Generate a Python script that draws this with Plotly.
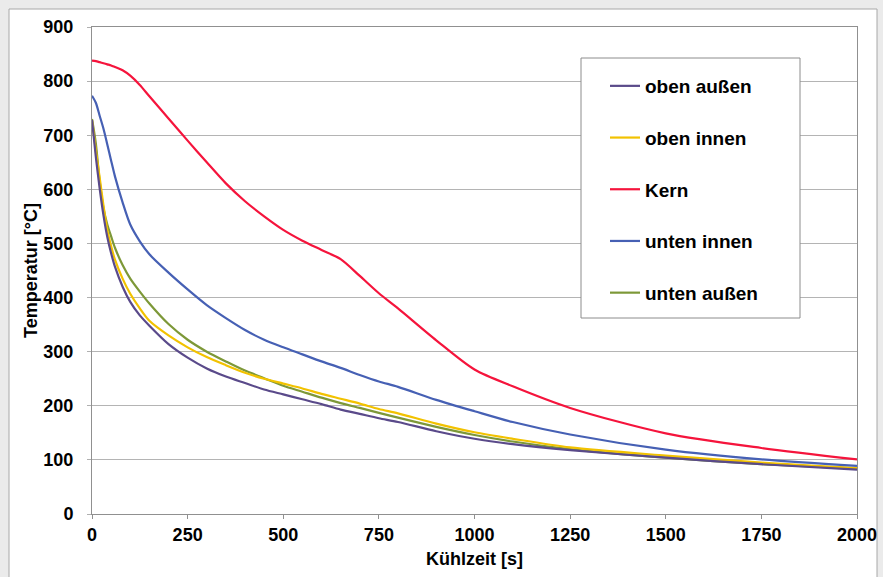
import plotly.graph_objects as go

# ---- data ----
zeit = [0, 10, 20, 30, 40, 50, 60, 80, 100, 125, 150, 200, 250, 300, 350, 400, 450, 500,
        550, 600, 650, 700, 750, 800, 900, 1000, 1100, 1250, 1500, 1750, 2000]

oben_aussen = [728, 660, 602, 552, 512, 482, 457, 420, 392, 367, 348, 314, 289, 269, 254, 242,
               230, 221, 212, 203, 193, 185, 177, 170, 153, 139, 129, 118, 104, 92, 82]
oben_innen = [728, 672, 622, 570, 525, 495, 470, 435, 407, 380, 357, 330, 308, 290, 275, 261,
              250, 241, 232, 222, 213, 204, 194, 186, 167, 151, 139, 123, 108, 95, 85]
kern = [838, 837, 835, 833, 831, 829, 826, 820, 810, 793, 772, 731, 690, 650, 611, 578,
        550, 525, 505, 488, 471, 440, 408, 380, 321, 267, 236, 196, 149, 122, 101]
unten_innen = [773, 760, 736, 712, 683, 653, 624, 576, 535, 504, 480, 446, 415, 386, 362, 340,
               322, 308, 295, 282, 270, 257, 245, 235, 211, 190, 170, 147, 119, 101, 89]
unten_aussen = [730, 685, 615, 565, 535, 513, 492, 460, 435, 411, 389, 351, 322, 300, 282, 265,
                251, 237, 226, 215, 205, 196, 187, 178, 161, 146, 134, 120, 104, 92, 84]

namen = ["oben außen", "oben innen", "Kern", "unten innen", "unten außen"]
farben = ["#5a4a8a", "#f2c200", "#f5143c", "#4660b4", "#7d9838"]
reihen = [oben_aussen, oben_innen, kern, unten_innen, unten_aussen]

x_ticks = [0, 250, 500, 750, 1000, 1250, 1500, 1750, 2000]
y_ticks = [0, 100, 200, 300, 400, 500, 600, 700, 800, 900]

W, H = 883, 577
L, R, T, B = 92, 26, 27, 63
pw, ph = W - L - R, H - T - B

def px(x):
    return (x - L) / pw

def py(y):
    return (H - B - y) / ph

fig = go.Figure()
draw_order = [4, 1, 0, 3, 2]
for i in draw_order:
    fig.add_trace(go.Scatter(
        x=zeit, y=reihen[i], mode="lines", name=namen[i],
        line=dict(color=farben[i], width=2.2, shape="spline", smoothing=0.8),
        legendgroup=namen[i], legendrank=i + 1,
    ))

shapes = [
    dict(type="rect", xref="paper", yref="paper", layer="below",
         x0=px(9), x1=px(877), y0=py(590), y1=py(9),
         fillcolor="white", line=dict(color="#a8a8a8", width=1)),
    dict(type="rect", xref="paper", yref="paper", layer="above",
         x0=px(581), x1=px(800), y0=py(318), y1=py(58),
         fillcolor="white", line=dict(color="#8c8c8c", width=1)),
]

fig.update_layout(
    width=W, height=H,
    margin=dict(l=L, r=R, t=T, b=B, autoexpand=False),
    paper_bgcolor="#ebebeb",
    plot_bgcolor="white",
    shapes=shapes,
    font=dict(family="Liberation Sans, Arial, sans-serif", color="black"),
    showlegend=True,
    legend=dict(
        x=px(605), y=py(67), xanchor="left", yanchor="top",
        bgcolor="rgba(0,0,0,0)", borderwidth=0,
        font=dict(size=19, family="Liberation Sans, Arial, sans-serif", color="black", weight="bold"),
        traceorder="grouped", tracegroupgap=24,
        itemwidth=30,
    ),
    xaxis=dict(
        range=[0, 2000], tickvals=x_ticks, ticktext=[str(v) for v in x_ticks],
        showgrid=False, zeroline=False,
        showline=True, linecolor="#909090", linewidth=1, mirror=True,
        ticks="outside", ticklen=4, tickcolor="#909090",
        tickfont=dict(size=18, weight="bold"),
        title=dict(text="Kühlzeit [s]", font=dict(size=18, weight="bold"), standoff=8),
    ),
    yaxis=dict(
        range=[0, 900], tickvals=y_ticks, ticktext=[str(v) for v in y_ticks],
        showgrid=True, gridcolor="#b4b4b4", gridwidth=1, zeroline=False,
        showline=True, linecolor="#909090", linewidth=1, mirror=True,
        ticks="outside", ticklen=4, tickcolor="#b0b0b0",
        tickfont=dict(size=18, weight="bold"),
        ticklabelstandoff=10,
        title=dict(text="Temperatur [°C]", font=dict(size=18, weight="bold"), standoff=1),
    ),
)

fig.write_html("out.html", config={"displayModeBar": False},
               post_script="document.body.style.margin='0';")
